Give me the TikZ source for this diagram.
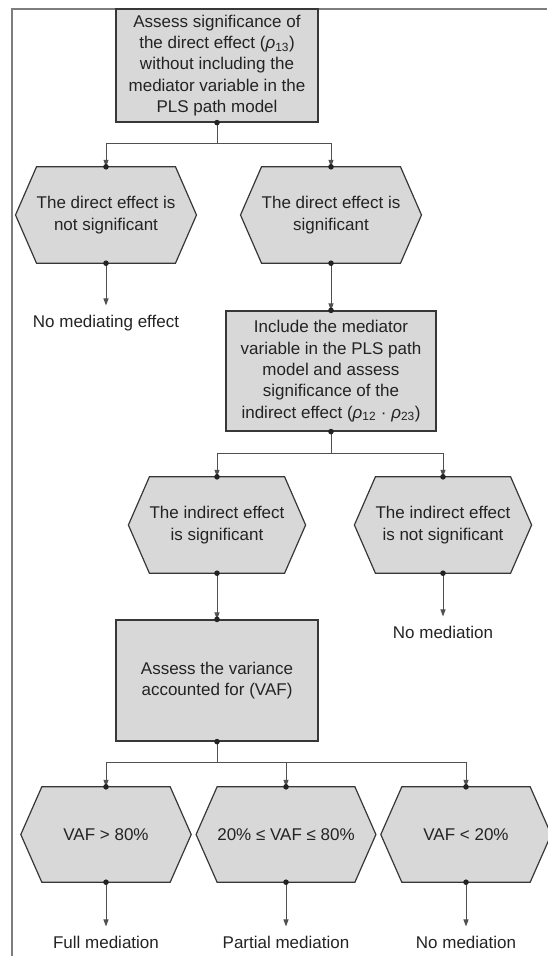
\documentclass[tikz,border=0pt]{standalone}
\usepackage{fontspec}
\setmainfont{Liberation Sans}
\usetikzlibrary{arrows.meta,backgrounds}
\definecolor{boxfill}{RGB}{216,216,216}
\definecolor{boxline}{RGB}{55,55,55}
\definecolor{linkc}{RGB}{80,80,80}
\definecolor{framec}{RGB}{125,125,125}
\definecolor{inkc}{RGB}{35,35,35}
% italic rho with a subscript index
\newcommand{\rh}[1]{\textit{ρ}\textsubscript{#1}}
\begin{document}
\begin{tikzpicture}[x=1pt,y=-1pt,
  every node/.style={font=\fontsize{17}{21.3}\selectfont, text=inkc},
  stepbox/.style={draw=boxline, fill=boxfill, line width=1.2pt, align=center, inner sep=0pt},
  hexnode/.style={align=center, inner sep=0pt, minimum width=128pt, minimum height=96pt},
  hexshape/.style={draw=boxline, fill=boxfill, line width=1.2pt, line join=miter},
  outcome/.style={inner xsep=0pt, inner ysep=9pt, anchor=base},
  link/.style={draw=linkc, line width=1pt},
  arr/.style={link, -{Triangle[length=7pt,width=5pt]}},
  dotmark/.style={fill=inkc},
]
\useasboundingbox (0,0) rectangle (547,956);

% outer frame (top and left edges)
\draw[framec, line width=2pt] (547,9) -- (12,9) -- (12,957);

% process boxes
\node[stepbox, minimum width=202pt, minimum height=113pt] (top) at (217,65.5)
  {Assess significance of\\the direct effect (\rh{13})\\without including the\\mediator variable in the\\PLS path model};
\node[stepbox, minimum width=210pt, minimum height=120pt] (incl) at (331,371)
  {Include the mediator\\variable in the PLS path\\model and assess\\significance of the\\indirect effect (\rh{12} · \rh{23})};
\node[stepbox, minimum width=202pt, minimum height=121pt] (vaf) at (217,680.5)
  {Assess the variance\\accounted for (VAF)};

% decision nodes (hexagon outlines are drawn behind them)
\node[hexnode] (hexA) at (106,215) {The direct effect is\\not significant};
\node[hexnode] (hexB) at (331,215) {The direct effect is\\significant};
\node[hexnode] (hexC) at (217,525) {The indirect effect\\is significant};
\node[hexnode] (hexD) at (443,525) {The indirect effect\\is not significant};
\node[hexnode, minimum height=95pt] (hexE) at (106,834.5) {VAF > 80\%};
\node[hexnode, minimum height=95pt] (hexF) at (286,834.5) {20\% ≤ VAF ≤ 80\%};
\node[hexnode, minimum height=95pt] (hexG) at (466,834.5) {VAF < 20\%};

\begin{scope}[on background layer]
  \foreach \n in {hexA,hexB,hexC,hexD,hexE,hexF,hexG}
    \path[hexshape] (\n.north west) -- ([xshift=-21pt]\n.west) -- (\n.south west)
      -- (\n.south east) -- ([xshift=21pt]\n.east) -- (\n.north east) -- cycle;
\end{scope}

% outcomes
\node[outcome] (lblA) at (106,327) {No mediating effect};
\node[outcome] (lblD) at (443,638) {No mediation};
\node[outcome] (lblE) at (106,948) {Full mediation};
\node[outcome] (lblF) at (286,948) {Partial mediation};
\node[outcome] (lblG) at (466,948) {No mediation};

% connectors
\coordinate (j1) at (217,143);
\coordinate (j2) at (331,453);
\coordinate (j3) at (217,762);
\draw[link] (top.south) -- (j1);
\draw[arr] (j1) -| (hexA.north);
\draw[arr] (j1) -| (hexB.north);
\draw[arr] (hexA.south) -- (lblA.north);
\draw[arr] (hexB.south) -- (incl.north);
\draw[link] (incl.south) -- (j2);
\draw[arr] (j2) -| (hexC.north);
\draw[arr] (j2) -| (hexD.north);
\draw[arr] (hexC.south) -- (vaf.north);
\draw[arr] (hexD.south) -- (lblD.north);
\draw[link] (vaf.south) -- (j3);
\draw[arr] (j3) -| (hexE.north);
\draw[arr] (j3) -| (hexF.north);
\draw[arr] (j3) -| (hexG.north);
\draw[arr] (hexE.south) -- (lblE.north);
\draw[arr] (hexF.south) -- (lblF.north);
\draw[arr] (hexG.south) -- (lblG.north);

% attachment dots
\foreach \a in {top.south, hexA.north, hexA.south, hexB.north, hexB.south,
    incl.north, incl.south, hexC.north, hexC.south, hexD.north, hexD.south,
    vaf.north, vaf.south, hexE.north, hexE.south, hexF.north, hexF.south,
    hexG.north, hexG.south}
  \fill[dotmark] (\a) circle (2.8pt);
\end{tikzpicture}
\end{document}
